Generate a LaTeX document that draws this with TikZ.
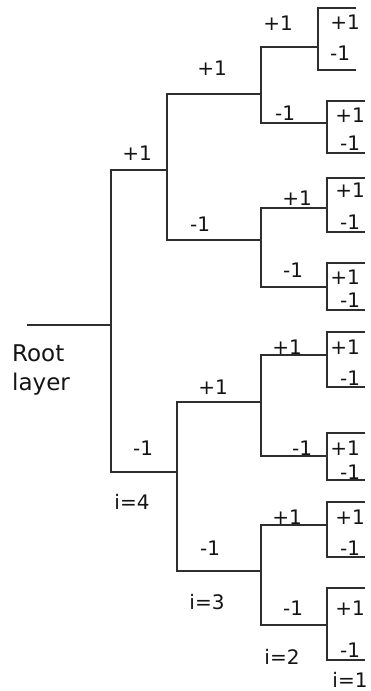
\documentclass[tikz,border=0pt]{standalone}
\usepackage{fontspec}
\setmainfont{DejaVu Sans}
\definecolor{ink}{HTML}{2E2E2E}
\definecolor{txt}{HTML}{141414}

\begin{document}
\begin{tikzpicture}[x=1pt,y=-1pt,
  wire/.style={draw=ink,line width=1.6pt,line join=miter},
  lbl/.style={inner sep=0pt,text=txt,font=\fontsize{20}{24}\selectfont}]
\useasboundingbox (0,0) rectangle (371,691);
% junctions of the tree
\coordinate (r0) at (27,325);
\coordinate (r) at (111,325);
\coordinate (j1) at (167,170);
\coordinate (j2) at (177,472);
\coordinate (j11) at (261,94);
\coordinate (j12) at (261,240);
\coordinate (j21) at (261,402);
\coordinate (j22) at (261,571);
% leaf brackets
\foreach \n/\x/\y/\t/\b/\w in {1/318/47/8/70/356,2/327/123/101/153/365,3/327/208/178/232/365,4/327/287/263/310/365,5/327/355/332/387/365,6/327/456/433/480/365,7/327/525/502/557/365,8/327/625/588/660/365}{
  \coordinate (l\n) at (\x,\y);
  \draw[wire] (\w,\t) -| (l\n) |- (\w,\b);
}
\draw[wire] (r0) -- (r);
\draw[wire] (j1) -| (r) |- (j2);
\draw[wire] (j11) -| (j1) |- (j12);
\draw[wire] (j21) -| (j2) |- (j22);
\draw[wire] (l1) -| (j11) |- (l2);
\draw[wire] (l3) -| (j12) |- (l4);
\draw[wire] (l5) -| (j21) |- (l6);
\draw[wire] (l7) -| (j22) |- (l8);
% branch labels and layer indices
\foreach \n/\x/\y/\s in {w1/137/153/+1,w2/143/448/-1,w3/212/68/+1,w4/200/224/-1,w5/213/387/+1,w6/210/548/-1,w7/278/23/+1,w8/285/113/-1,w9/297/198/+1,w10/293/270/-1,w11/287/347/+1,w12/302/448/-1,w13/287/517/+1,w14/293/608/-1,i4/132/502/i=4,i3/207/602/i=3,i2/282/657/i=2,i1/350/680/i=1}
  \node[lbl] (\n) at (\x,\y) {\s};
% values in the leaf brackets
\foreach \n/\px/\py/\mx/\my in {1/345/22/340/53,2/350/115/350/143,3/350/190/350/222,4/345/277/350/300,5/345/347/350/378,6/345/448/350/472,7/350/517/350/548,8/350/608/350/650}{
  \node[lbl] (p\n) at (\px,\py) {+1};
  \node[lbl] (m\n) at (\mx,\my) {-1};
}
\node[lbl,font=\fontsize{23}{29}\selectfont,align=left,anchor=north west] (root) at (12,345) {Root\\layer};
\end{tikzpicture}
\end{document}
